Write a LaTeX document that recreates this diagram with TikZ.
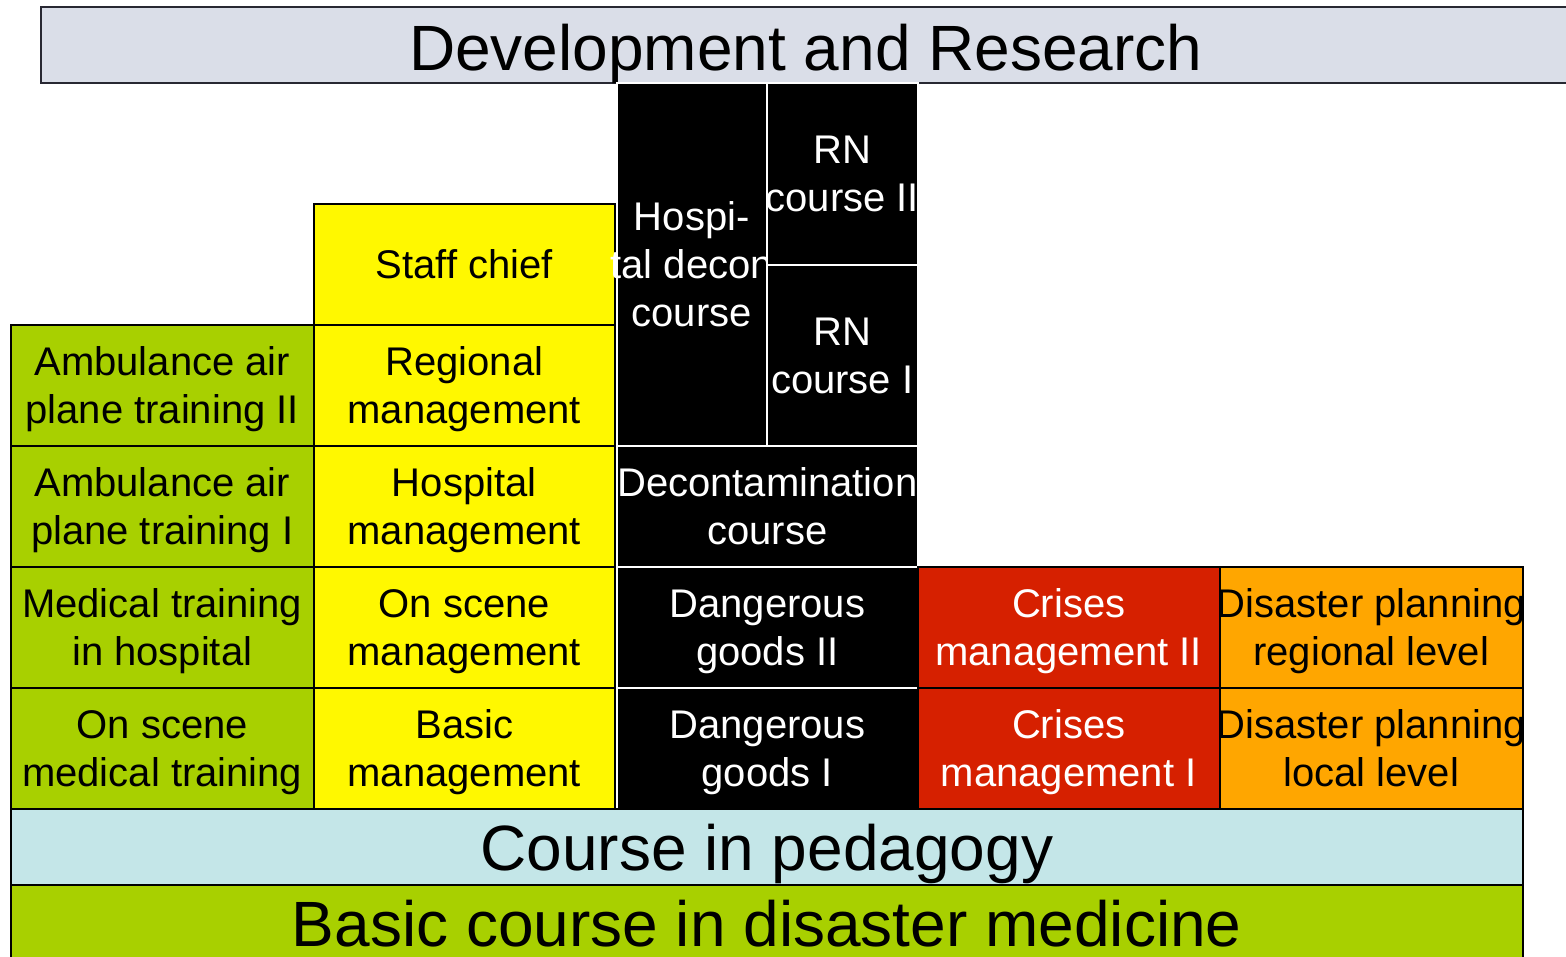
\documentclass[tikz,border=0pt]{standalone}
\usepackage{fontspec}
\setmainfont{Liberation Sans}
\definecolor{lime}{RGB}{168,208,0}
\definecolor{lemon}{RGB}{255,248,0}
\definecolor{crisis}{RGB}{214,32,0}
\definecolor{amber}{RGB}{255,166,0}
\definecolor{pale}{RGB}{196,230,232}
\definecolor{mist}{RGB}{218,222,232}
\newcommand{\spill}[1]{\makebox[0pt]{#1}}
\begin{document}
\begin{tikzpicture}[x=1pt,y=-1pt,
  cell/.style={draw, line width=1.5pt, anchor=north west, inner sep=0pt, align=center,
    minimum height=121pt, text depth=0pt, font=\fontsize{40}{48}\selectfont},
  gbox/.style={cell, fill=lime, minimum width=303pt},
  ybox/.style={cell, fill=lemon, minimum width=301pt},
  kbox/.style={cell, fill=black, draw=white, text=white, minimum width=301pt},
  rbox/.style={cell, fill=crisis, text=white, minimum width=302pt},
  obox/.style={cell, fill=amber, minimum width=303pt},
  band/.style={cell, minimum height=76pt, text height=48pt, font=\fontsize{64}{70}\selectfont}]
\useasboundingbox (0,0) rectangle (1566,956);
% top
\node[band, fill=mist, draw={rgb,255:red,40;green,40;blue,50}, minimum width=1530pt,
  text height=51pt] (dev) at (40,6) {Development and Research};
% green column
\node[gbox] (amb2) at (10,324) {Ambulance air\\plane training II};
\node[gbox] (amb1) at (10,445) {Ambulance air\\plane training I};
\node[gbox] (medhosp) at (10,566) {Medical training\\in hospital};
\node[gbox] (scenemed) at (10,687) {On scene\\medical training};
% yellow column
\node[ybox] (staff) at (313,203) {Staff chief};
\node[ybox] (regman) at (313,324) {Regional\\management};
\node[ybox] (hospman) at (313,445) {Hospital\\management};
\node[ybox] (sceneman) at (313,566) {On scene\\management};
\node[ybox] (basicman) at (313,687) {Basic\\management};
% black column
\node[kbox, minimum width=150pt, minimum height=363pt] (hospdecon) at (616,82) {Hospi-\\\spill{tal decon}\\course};
\node[kbox, minimum width=151pt, minimum height=182pt] (rn2) at (766,82) {RN\\\spill{course II}};
\node[kbox, minimum width=151pt, minimum height=181pt] (rn1) at (766,264) {RN\\course I};
\node[kbox] (decon) at (616,445) {\spill{Decontamination}\\course};
\node[kbox] (dg2) at (616,566) {Dangerous\\goods II};
\node[kbox] (dg1) at (616,687) {Dangerous\\goods I};
% red and orange
\node[rbox] (cm2) at (917,566) {Crises\\management II};
\node[rbox] (cm1) at (917,687) {Crises\\management I};
\node[obox] (dp2) at (1219,566) {\spill{Disaster planning}\\regional level};
\node[obox] (dp1) at (1219,687) {\spill{Disaster planning}\\local level};
% base
\node[band, fill=pale, minimum width=1512pt] (ped) at (10,808) {Course in pedagogy};
\node[band, fill=lime, minimum width=1512pt] (basic) at (10,884) {Basic course in disaster medicine};
\end{tikzpicture}
\end{document}
